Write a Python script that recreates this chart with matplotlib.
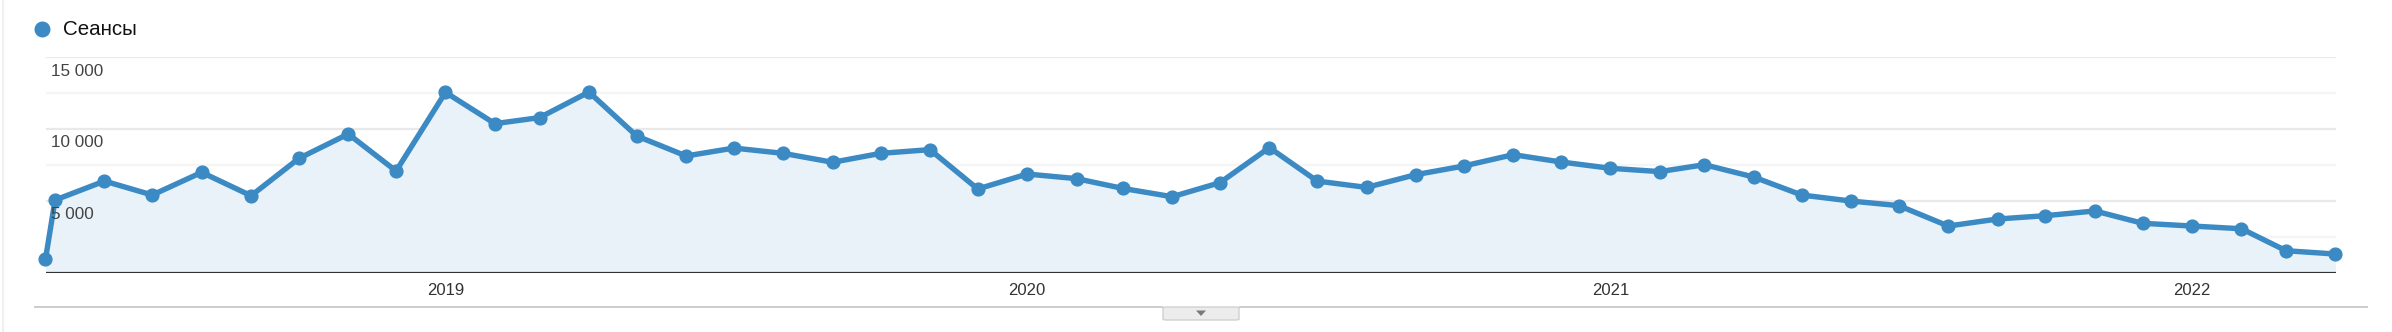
import matplotlib.pyplot as plt
import matplotlib.dates as mdates
from matplotlib.patches import FancyBboxPatch, Polygon
from matplotlib.lines import Line2D
import pandas as pd

plt.rcParams['font.family'] = ['Liberation Sans', 'DejaVu Sans']

# first point is a partial month, then monthly points May 2018 .. Apr 2022
dates = [pd.Timestamp('2018-04-25')] + list(pd.date_range('2018-05-01', '2022-04-01', freq='MS'))
sessions = [950, 5060, 6380, 5410, 6990, 5360, 7960, 9660, 7080, 12560, 10380, 10800,
            12580, 9520, 8130, 8680, 8310, 7690, 8310, 8570, 5830, 6870, 6550, 5870,
            5290, 6270, 8710, 6380, 5940, 6830, 7430, 8220, 7710, 7270, 7040, 7520,
            6660, 5410, 4990, 4670, 3250, 3740, 3970, 4300, 3440, 3250, 3060, 1530, 1300]
series_name = 'Сеансы'
y_labels = [5000, 10000, 15000]
grid_major = [5000, 10000, 15000]
grid_minor = [2500, 7500, 12500]
years = [2019, 2020, 2021, 2022]

W, H = 2392, 332
blue = '#3b8ac4'

def fx(px):
    return px / W

def fy(py):
    return 1 - py / H

fig = plt.figure(figsize=(W / 100, H / 100), dpi=100)
ax = fig.add_axes([fx(45.5), fy(272.7), fx(2335.5) - fx(45.5), fy(57.3) - fy(272.7)])
ax.set_xlim(dates[0], dates[-1])
ax.set_ylim(0, 15000)
for s in ax.spines.values():
    s.set_visible(False)
ax.set_xticks([])
ax.set_yticks([])

for v in grid_major:
    ax.axhline(v, color='#e9e9e9', lw=1.6, zorder=0)
for v in grid_minor:
    ax.axhline(v, color='#f5f5f5', lw=1.6, zorder=0)

ax.fill_between(dates, sessions, 0, color='#e9f1f9', zorder=1, lw=0)
ax.plot(dates, sessions, color=blue, lw=3.9, marker='o', markersize=9.2,
        solid_joinstyle='round', zorder=3, clip_on=False)
ax.axhline(0, color='#333333', lw=1.6, zorder=4)

for v in y_labels:
    ax.annotate(f'{v:,}'.replace(',', ' '), xy=(0, v), xycoords=('axes fraction', 'data'),
                xytext=(4, -10), textcoords='offset points', ha='left', va='center',
                fontsize=12.3, color='#444444', zorder=5)

for yr in years:
    ax.annotate(str(yr), xy=(mdates.date2num(pd.Timestamp(f'{yr}-01-01')), 0),
                xycoords=('data', 'axes fraction'), xytext=(0, -13), textcoords='offset points',
                ha='center', va='center', fontsize=12, color='#333333', annotation_clip=False)

# legend
fig.add_artist(Line2D([fx(41.7)], [fy(29.3)], marker='o', markersize=10.5, color=blue, lw=0))
fig.text(fx(63), fy(29.5), series_name, fontsize=14.8, color='#111111', ha='left', va='center')

# bottom rule with the small expand button
fig.add_artist(Line2D([fx(35), fx(1162)], [fy(306.5), fy(306.5)], color='#cccccc', lw=1.4))
fig.add_artist(Line2D([fx(1240), fx(2367)], [fy(306.5), fy(306.5)], color='#cccccc', lw=1.4))
btn = FancyBboxPatch((fx(1163), fy(320)), fx(1239) - fx(1163), fy(307) - fy(320),
                     boxstyle='round,pad=0,rounding_size=0.002', transform=fig.transFigure,
                     facecolor='#ececec', edgecolor='#d0d0d0', lw=1)
fig.add_artist(btn)
fig.add_artist(Polygon([(fx(1196), fy(310.5)), (fx(1206), fy(310.5)), (fx(1201), fy(316))],
                       closed=True, transform=fig.transFigure, facecolor='#7a7a7a', edgecolor='none'))

# faint left border
fig.add_artist(Line2D([fx(2.5), fx(2.5)], [0, 1], color='#f0f0f0', lw=1.5))

fig.savefig('out.png', dpi=100, facecolor='white')
